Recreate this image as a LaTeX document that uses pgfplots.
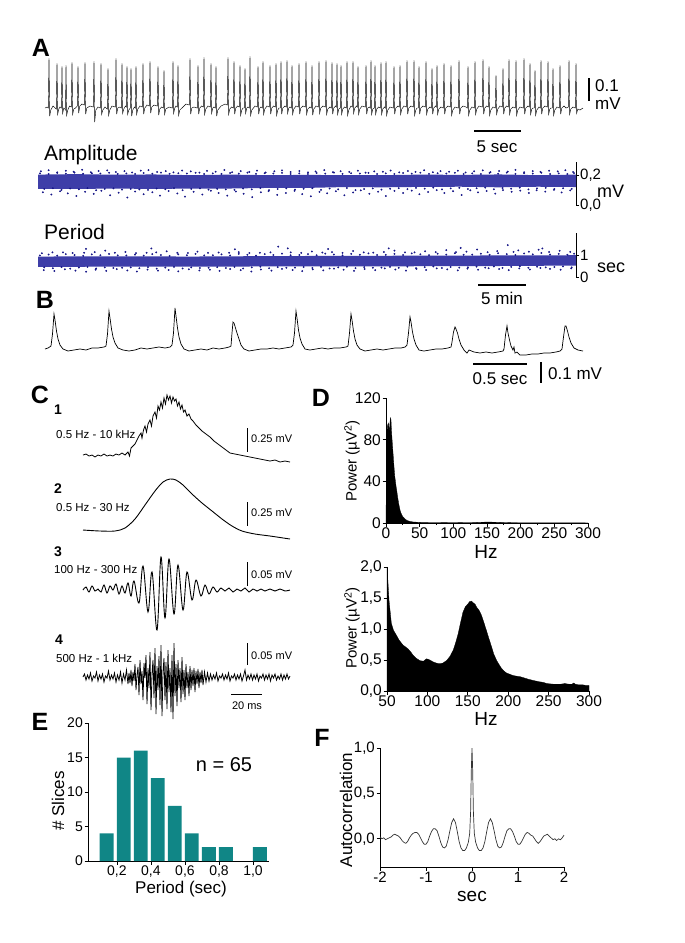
\documentclass[border=0pt]{standalone}
\usepackage{pgfplots}
\pgfplotsset{compat=1.18}
\usepackage{fontspec}
\setmainfont{Liberation Sans}
\definecolor{navyd}{RGB}{22,22,135}
\definecolor{navyf}{RGB}{62,62,168}
\definecolor{tealbar}{RGB}{16,134,134}
\newcommand{\fs}[1]{\fontsize{#1}{#1}\selectfont}
\pgfplotsset{
 gp/.style={scale only axis, anchor=south west, enlargelimits=false, clip=false,
  axis x line*=bottom, axis y line*=left, axis line style={line width=0.8pt,-},
  tick style={line width=0.8pt,black}, tick align=outside, major tick length=3.5pt, minor tick length=2pt,
  /pgf/number format/assume math mode=true, xticklabel style={inner sep=1.5pt}, yticklabel style={inner sep=1.5pt}},
 sc/.style={scale only axis, anchor=south west, enlargelimits=false, clip=false,
  axis y line*=right, axis x line=none, xtick=\empty, axis line style={line width=0.9pt,-},
  tick style={line width=0.9pt,black}, tick align=outside, major tick length=3pt,
  yticklabel style={font=\fs{15}, inner sep=1pt}, xmin=0, xmax=56},
 dots/.style={only marks, mark=*, mark size=0.72pt, navyd}
}
\begin{document}
\begin{tikzpicture}
\useasboundingbox (0,0) rectangle (685pt,-943pt);
% ---------- traces in page pixel units ----------
\begin{axis}[at={(0pt,-943pt)}, anchor=south west, scale only axis, width=685pt, height=943pt,
 xmin=0, xmax=685, ymin=0, ymax=943, y dir=reverse, hide axis, clip=false, enlargelimits=false]
% A trace
\addplot[black, line width=0.45pt] coordinates {
(45,108)(47,107)
(48.3,108)(49,58)(49.7,116)(50.8,110)(53,106)
(56.3,109)(57,63)(57.7,114)(58.8,109)(60,107)
(61.3,108)(62,66)(62.7,113)(63.8,108)(65,109)
(65.5,110)(66,65)(66.7,115)(67.8,110)(69.5,106)
(71.3,107)(72,62)(72.7,114)(73.8,109)(75.5,108)
(77.3,106)(78,66)(78.7,113)(79.8,106)(82,104)
(84.3,105)(85,62)(85.7,114)(86.8,108)(90,106)
(93.3,107)(94,61)(94.7,122)(95.8,110)(98,107)
(100.3,108)(101,63)(101.7,114)(102.8,110)(105,107)
(107.3,109)(108,68)(108.7,115)(109.8,110)(112,106)
(115.3,107)(116,58)(116.7,114)(117.8,108)(120,107)
(121.3,108)(122,63)(122.7,113)(123.8,109)(125.5,106)
(126.3,107)(127,66)(127.7,114)(128.8,110)
(130.3,108)(131,68)(131.7,116)(132.8,110)(134.5,107)
(135.3,108)(136,66)(136.7,114)(137.8,109)(140,106)
(142.3,107)(143,63)(143.7,114)(144.8,108)(147,105)
(149.3,106)(150,61)(150.7,113)(151.8,107)(154,105)
(157.3,106)(158,66)(158.7,115)(159.8,109)(161.5,107)
(163.3,108)(164,70)(164.7,114)(165.8,109)(169,107)
(172.3,108)(173,61)(173.7,113)(174.8,108)(176,106)
(177.3,107)(178,65)(178.7,115)(179.8,110)(183,107)(186,104)
(189.3,105)(190,58)(190.7,114)(191.8,108)(194,107)
(197.3,108)(198,65)(198.7,114)(199.8,108)(201.5,106)
(203.3,107)(204,57)(204.7,114)(205.8,109)(208,106)
(210.3,107)(211,63)(211.7,113)(212.8,108)(214,107)
(215.3,108)(216,66)(216.7,116)(217.8,110)(221,106)(225,104)
(227.3,105)(228,57)(228.7,114)(229.8,109)(231.5,107)
(233.3,108)(234,61)(234.7,114)(235.8,108)(237.5,106)
(239.3,107)(240,65)(240.7,115)(241.8,110)(243,108)
(244.3,108)(245,68)(245.7,113)(246.8,108)(248,107)
(249.3,108)(250,56)(250.7,115)(251.8,110)(255,106)
(257.3,107)(258,66)(258.7,114)(259.8,108)(261,107)
(262.3,108)(263,61)(263.7,114)(264.8,109)(267,106)
(269.3,107)(270,65)(270.7,114)(271.8,108)(273.5,106)
(275.3,107)(276,63)(276.7,115)(277.8,110)(279,108)
(280.3,108)(281,61)(281.7,114)(282.8,108)(285,106)
(286.3,107)(287,60)(287.7,113)(288.8,108)(290,107)
(291.3,108)(292,65)(292.7,114)(293.8,109)(296,106)
(298.3,107)(299,63)(299.7,114)(300.8,108)(303,106)
(305.3,107)(306,61)(306.7,114)(307.8,109)(310,107)
(311.3,108)(312,65)(312.7,115)(313.8,109)(316,106)
(318.3,107)(319,61)(319.7,113)(320.8,108)(323,106)
(325.3,107)(326,60)(326.7,114)(327.8,109)(330,107)
(331.3,108)(332,62)(332.7,114)(333.8,108)(335.5,106)
(336.3,107)(337,63)(337.7,114)(338.8,109)
(340.3,108)(341,65)(341.7,114)(342.8,109)(344.5,107)
(346.3,108)(347,61)(347.7,115)(348.8,110)(351,106)
(352.3,107)(353,61)(353.7,113)(354.8,108)(356.5,106)
(357.3,107)(358,66)(358.7,114)(359.8,109)(362,106)
(365.3,107)(366,65)(366.7,114)(367.8,108)(369.5,107)
(370.3,108)(371,60)(371.7,114)(372.8,109)
(374.3,108)(375,65)(375.7,114)(376.8,109)(378.5,107)
(380.3,108)(381,62)(381.7,114)(382.8,109)(384.5,107)
(385.3,108)(386,61)(386.7,115)(387.8,110)(390,107)
(393.3,108)(394,66)(394.7,114)(395.8,108)(398,106)
(399.3,107)(400,65)(400.7,114)(401.8,109)(404,106)
(406.3,107)(407,60)(407.7,114)(408.8,108)(411,106)
(413.3,107)(414,60)(414.7,115)(415.8,110)(417,108)
(418.3,108)(419,66)(419.7,114)(420.8,108)(423,106)
(425.3,107)(426,61)(426.7,114)(427.8,109)(430,107)
(431.3,108)(432,68)(432.7,114)(433.8,108)(435.5,106)
(436.3,107)(437,65)(437.7,114)(438.8,109)(441,107)
(443.3,108)(444,63)(444.7,114)(445.8,108)(448,106)
(450.3,107)(451,65)(451.7,115)(452.8,110)(455,107)
(458.3,108)(459,60)(459.7,114)(460.8,108)(463,106)(466,107)
(467.3,108)(468,66)(468.7,115)(469.8,110)(472,107)
(474.3,108)(475,61)(475.7,114)(476.8,109)(479,106)
(482.3,107)(483,59)(483.7,114)(484.8,108)(486.5,106)
(488.3,107)(489,66)(489.7,115)(490.8,110)(493,107)
(495.3,108)(496,75)(496.7,114)(497.8,109)(500,106)
(502.3,107)(503,68)(503.7,114)(504.8,108)(506.5,106)
(508.3,107)(509,59)(509.7,114)(510.8,109)(513,107)
(515.3,108)(516,60)(516.7,115)(517.8,110)(520,107)
(523.3,108)(524,58)(524.7,114)(525.8,108)(528,106)
(529.3,107)(530,63)(530.7,114)(531.8,109)(533,108)
(534.3,108)(535,70)(535.7,115)(536.8,110)(539,107)
(540.3,108)(541,60)(541.7,114)(542.8,108)(545,106)
(547.3,107)(548,61)(548.7,114)(549.8,109)(551,108)
(552.3,108)(553,68)(553.7,115)(554.8,110)(557,107)
(559.3,108)(560,65)(560.7,114)(561.8,108)(564,106)(566,108)
(568.3,107)(569,60)(569.7,114)(570.8,109)(573,107)
(575.3,108)(576,63)(576.7,113)(577.8,109)(580,110)(583,108)};
% A scale bars
\addplot[black, line width=2pt] coordinates {(589,78)(589,101)};
\addplot[black, line width=1.3pt] coordinates {(474,131)(521,131)};
% period scale bar
\addplot[black, line width=1.3pt] coordinates {(478,285)(526,285)};
% B trace
\addplot[black, line width=0.7pt] coordinates {
(45,349)(48,348)(51,346)(52.5,334)(54,314)(55,320)(56.5,331)(58,339)(60,345)(63,349)(68,351)(74,350)(80,349)(86,350)(92,348)(98,348)(104,347)
(106,346)(107.5,334)(109,311)(110,318)(111.5,329)(113,337)(115,343)(118,348)(123,350)(129,351)(135,350)(141,348)(147,349)(153,348)(159,347)(165,348)(170,347)
(172,345)(173.5,333)(175,308)(176,316)(177.5,328)(179,337)(181,344)(184,349)(189,351)(195,350)(201,349)(207,350)(213,348)(219,349)(225,348)(229,347)
(231,346)(232,333)(233,322)(234,323)(235.5,328)(237,333)(239,339)(241,345)(244,349)(249,351)(255,350)(261,349)(267,349)(273,348)(279,349)(285,348)(291,347)
(293,345)(294.5,333)(296,311)(297,318)(298.5,330)(300,338)(302,344)(305,349)(310,350)(316,349)(322,348)(328,349)(334,348)(340,348)(346,347)
(348,346)(349.5,333)(351,314)(352,320)(353.5,331)(355,339)(357,345)(360,349)(365,351)(371,350)(377,349)(383,350)(389,349)(395,348)(401,348)(405,347)
(407,345)(408.5,333)(410,317)(411,322)(412.5,332)(414,339)(416,345)(419,350)(424,351)(430,350)(436,349)(442,349)(448,348)(451,347)
(452,342)(453.5,332)(455,327)(456,329)(457.5,333)(459,339)(461,345)(464,350)(467,353)(469,350)(474,352)(480,353)(486,352)(492,353)(498,352)(503,351)
(504,349)(505.5,335)(507,326)(508,333)(509.5,340)(511,346)(513,350)(514,347)(515,353)(517,352)(520,355)(526,355)(532,354)(538,354)(544,353)(550,353)(556,352)(560,351)
(562,349)(563.5,337)(565,326)(566,326)(567.5,331)(569,337)(571,343)(574,348)(578,350)(583,351)};
% B scale bars
\addplot[black, line width=1.3pt] coordinates {(473,364)(527,364)};
\addplot[black, line width=1.3pt] coordinates {(541,362)(541,383)};
% C trace 1
\addplot[black, line width=0.8pt] coordinates {
(83,455)(86,454)(89,456)(92,455)(95,457)(98,455)(101,456)(104,454)(107,456)(110,455)(113,456)(116,454)(119,455)(122,453)(125,455)(128,452)(129.5,456)
(131,448)(133,446)(135,444)(137,440)(139,436)(141,433)(142,438)(143.5,430)(145,426)(146.5,432)(148,424)(150,420)(151.5,426)(153,416)(155,412)(156.5,418)
(158,406)(159.5,410)(161,402)(162.5,408)(164,398)(165.5,404)(167,395)(168.5,400)(170,396)(171.5,403)(173,397)(174.5,401)(176,399)(177.5,406)(179,402)
(180.5,409)(182,405)(183.5,412)(185,410)(187,416)(189,414)(191,419)(193,421)(196,425)(199,428)(202,431)(206,434)(210,437)(214,441)(218,444)(222,447)
(226,450)(230,453)(235,454)(240,455)(245,456)(250,457)(255,458)(260,459)(265,460)(270,461)(275,460)(280,462)(285,461)(290,462)};
% C trace 2
\addplot[black, line width=0.9pt, smooth] coordinates {
(83,530)(100,531)(115,531)(125,528)(135,519)(145,505)(155,491)(163,482)(170,479)(176,480)(183,485)(192,494)(202,503)(212,511)(222,519)(232,526)(242,531)(255,534)(270,536)(290,539)};
% C trace 3
\addplot[black, line width=0.9pt, smooth, tension=0.6] coordinates {
(83,590)(86,587)(89,592)(92,586)(95,591)(98,589)(101,592)(104,585)(107,593)(110,586)(113,590)(116,584)(119,594)(122,586)(125,593)(128,583)(131,596)(134,581)
(139,603)(143,566)(148,612)(152,572)(157,630)(161,557)(165,618)(169,559)(174,614)(178,565)(183,610)(187,572)(192,600)(196,580)(201,596)(205,585)
(209,594)(213,587)(217,592)(221,588)(225,591)(229,588)(233,592)(237,589)(241,591)(245,588)(249,592)(253,589)(257,591)(261,589)(265,591)(270,589)(275,591)(280,589)(285,591)(290,590)};
% C trace 4
\addplot[black, line width=0.8pt] coordinates {
(83,677)(84.5,674)(86,680)(87.5,675)(89,679)(90.5,673)(92,681)(93.5,676)(95,678)(96.5,672)(98,681)(99.5,675)(101,679)(102.5,674)(104,682)(105.5,676)(107,678)(108.5,671)
(110,680)(111.5,675)(113,679)(114.5,673)(116,682)(117.5,675)(119,680)(120.5,672)(122,683)(123.5,674)(125,680)(126.5,670)(128,684)(129,673)
(130,683)(131,670)(132,686)(133,672)(134,681)(135,664)(136,690)(137,675)(138,667)(139,695)(140,660)(141,684)(142,671)(143,700)(144,663)(145,678)(146,655)
(147,704)(148,668)(149,688)(150,652)(151,710)(152,674)(153,660)(154,698)(155,648)(156,714)(157,666)(158,690)(159,656)(160,705)(161,645)(162,716)(163,672)
(164,658)(165,700)(166,662)(167,709)(168,650)(169,692)(170,668)(171,712)(172,655)(173,719)(174,643)(175,696)(176,664)(177,706)(178,660)(179,688)(180,668)
(181,702)(182,657)(183,694)(184,670)(185,700)(186,664)(187,688)(188,672)(189,696)(190,666)(191,690)(192,670)(193,686)(194,668)(195,692)(196,671)(197,684)
(198,669)(199,688)(200,672)(201,683)(202,670)(203,685)
(204.5,672)(206,682)(207.5,673)(209,681)(210.5,674)(212,680)(213.5,675)(215,679)(216.5,673)(218,681)(219.5,676)(221,678)(222.5,674)(224,680)(225.5,675)(227,679)
(228.5,673)(230,681)(231.5,676)(233,678)(234.5,674)(236,680)(237.5,675)(239,679)(240.5,674)(242,681)(243.5,676)(245,670)(246.5,680)(248,675)(249.5,679)(251,674)
(252.5,680)(254,675)(255.5,679)(257,674)(258.5,681)(260,676)(261.5,678)(263,674)(264.5,680)(266,675)(267.5,679)(269,674)(270.5,681)(272,675)(273.5,678)(275,674)
(276.5,680)(278,676)(279.5,679)(281,674)(282.5,680)(284,675)(285.5,679)(287,674)(288.5,679)(290,676)};
% C scale bars
\addplot[black, line width=0.9pt] coordinates {(247,428)(247,452)};
\addplot[black, line width=0.9pt] coordinates {(247,502)(247,526)};
\addplot[black, line width=0.9pt] coordinates {(247,562)(247,586)};
\addplot[black, line width=0.9pt] coordinates {(247,643)(247,665)};
\addplot[black, line width=0.9pt] coordinates {(231,694)(262,694)};
\end{axis}

% ---------- Amplitude scatter ----------
\begin{axis}[sc, at={(38pt,-205pt)}, width=538pt, height=43pt, ymin=0, ymax=0.287,
 ytick={0,0.2}, yticklabels={{0,0},{0,2}}]
\addplot[fill=navyf, draw=none] coordinates {(0,0.203)(4,0.206)(8,0.202)(12,0.204)(16,0.199)(20,0.203)(24,0.199)(28,0.201)(32,0.199)(36,0.199)(40,0.203)(44,0.201)(48,0.204)(52,0.199)(56,0.203)
(56,0.12)(52,0.122)(48,0.118)(44,0.122)(40,0.121)(36,0.118)(32,0.12)(28,0.114)(24,0.114)(20,0.11)(16,0.11)(12,0.107)(8,0.11)(4,0.107)(0,0.107)};
\addplot[dots] coordinates {
(0.2,0.211)(1.1,0.207)(2.0,0.214)(2.9,0.209)(3.8,0.216)(4.7,0.208)(5.6,0.212)(6.5,0.21)(7.4,0.215)(8.3,0.207)
(9.2,0.211)(10.1,0.207)(11.0,0.214)(11.9,0.209)(12.8,0.216)(13.7,0.208)(14.6,0.212)(15.5,0.21)(16.4,0.215)(17.3,0.207)
(18.2,0.211)(19.1,0.207)(20.0,0.214)(20.9,0.209)(21.8,0.216)(22.7,0.208)(23.6,0.212)(24.5,0.21)(25.4,0.215)(26.3,0.207)
(27.2,0.211)(28.1,0.207)(29.0,0.214)(29.9,0.209)(30.8,0.216)(31.7,0.208)(32.6,0.212)(33.5,0.21)(34.4,0.215)(35.3,0.207)
(36.2,0.211)(37.1,0.207)(38.0,0.214)(38.9,0.209)(39.8,0.216)(40.7,0.208)(41.6,0.212)(42.5,0.21)(43.4,0.215)(44.3,0.207)
(45.2,0.211)(46.1,0.207)(47.0,0.214)(47.9,0.209)(48.8,0.216)(49.7,0.208)(50.6,0.212)(51.5,0.21)(52.4,0.215)(53.3,0.207)(54.2,0.211)(55.1,0.207)(55.8,0.213)
(0.65,0.108)(1.55,0.112)(2.45,0.101)(3.35,0.11)(4.25,0.105)(5.15,0.113)(6.05,0.099)(6.95,0.107)(7.85,0.111)(8.75,0.103)
(9.65,0.108)(10.55,0.104)(11.45,0.101)(12.35,0.11)(13.25,0.105)(14.15,0.113)(15.05,0.099)(15.95,0.107)(16.85,0.111)(17.75,0.103)
(18.65,0.108)(19.55,0.104)(20.45,0.101)(21.35,0.11)(22.25,0.105)(23.15,0.113)(24.05,0.099)(24.95,0.107)(25.85,0.111)(26.75,0.103)
(27.65,0.108)(28.55,0.112)(29.45,0.101)(30.35,0.11)(31.25,0.105)(32.15,0.113)(33.05,0.099)(33.95,0.107)(34.85,0.111)(35.75,0.103)
(36.65,0.108)(37.55,0.112)(38.45,0.106)(39.35,0.114)(40.25,0.109)(41.15,0.116)(42.05,0.104)(42.95,0.111)(43.85,0.115)(44.75,0.107)
(45.65,0.112)(46.55,0.116)(47.45,0.105)(48.35,0.113)(49.25,0.109)(50.15,0.116)(51.05,0.104)(51.95,0.111)(52.85,0.115)(53.75,0.107)(54.65,0.112)(55.55,0.108)
(0.3,0.225)(1.1,0.232)(2.0,0.218)(2.9,0.228)(3.7,0.222)(4.6,0.235)(5.5,0.219)(6.3,0.227)(7.2,0.231)(8.1,0.22)(9.0,0.226)(9.8,0.217)(10.7,0.229)(11.5,0.233)
(12.4,0.221)(13.3,0.226)(14.1,0.218)(15.0,0.23)(15.9,0.224)(16.8,0.216)(17.6,0.228)(18.5,0.222)(19.4,0.234)(20.2,0.219)(21.1,0.226)(22.0,0.221)(22.8,0.229)
(23.7,0.217)(24.6,0.225)(25.4,0.231)(26.3,0.22)(27.2,0.227)(28.1,0.218)(28.9,0.224)(29.8,0.233)(30.7,0.219)(31.5,0.226)(32.4,0.221)(33.3,0.229)(34.1,0.216)
(35.0,0.225)(35.9,0.222)(36.7,0.23)(37.6,0.218)(38.5,0.227)(39.3,0.221)(40.2,0.232)(41.1,0.219)(41.9,0.226)(42.8,0.222)(43.7,0.229)(44.5,0.217)(45.4,0.225)
(46.3,0.231)(47.1,0.22)(48.0,0.227)(48.9,0.223)(49.7,0.234)(50.6,0.219)(51.5,0.226)(52.3,0.221)(53.2,0.229)(54.1,0.224)(54.9,0.232)(55.7,0.22)
(0.5,0.085)(1.4,0.07)(2.3,0.092)(3.1,0.078)(4.0,0.06)(4.9,0.088)(5.8,0.074)(6.6,0.095)(7.5,0.065)(8.4,0.082)(9.3,0.05)(10.1,0.09)(11.0,0.072)(11.9,0.085)
(12.7,0.063)(13.6,0.093)(14.5,0.077)(15.3,0.056)(16.2,0.088)(17.1,0.07)(18.0,0.095)(18.8,0.08)(19.7,0.062)(20.6,0.09)(21.4,0.075)(22.3,0.052)(23.2,0.085)
(24.0,0.093)(24.9,0.068)(25.8,0.08)(26.7,0.095)(27.5,0.073)(28.4,0.058)(29.3,0.088)(30.1,0.078)(31.0,0.092)(31.9,0.065)(32.8,0.084)(33.6,0.098)(34.5,0.075)
(35.4,0.089)(36.2,0.06)(37.1,0.094)(38.0,0.08)(38.9,0.096)(39.7,0.072)(40.6,0.087)(41.5,0.099)(42.3,0.08)(43.2,0.092)(44.1,0.067)(45.0,0.098)(45.8,0.085)
(46.7,0.094)(47.6,0.076)(48.4,0.1)(49.3,0.088)(50.2,0.096)(51.1,0.08)(51.9,0.098)(52.8,0.09)(53.7,0.101)(54.5,0.084)(55.4,0.097)};
\end{axis}

% ---------- Period scatter ----------
\begin{axis}[sc, at={(38pt,-277pt)}, width=538pt, height=44pt, ymin=0, ymax=2,
 ytick={0,1}, yticklabels={0,1}]
\addplot[fill=navyf, draw=none] coordinates {(0,0.93)(8,0.94)(16,0.93)(24,0.95)(32,0.96)(40,0.97)(48,0.98)(56,0.99)
(56,0.52)(48,0.5)(40,0.49)(32,0.48)(24,0.48)(16,0.47)(8,0.47)(0,0.46)};
\addplot[dots] coordinates {
(0.2,0.98)(1.1,1.02)(2.0,0.97)(2.9,1.04)(3.8,1.0)(4.7,0.96)(5.6,1.03)(6.5,0.99)(7.4,1.05)(8.3,0.98)
(9.2,0.98)(10.1,1.02)(11.0,0.97)(11.9,1.04)(12.8,1.0)(13.7,0.96)(14.6,1.03)(15.5,0.99)(16.4,1.05)(17.3,0.98)
(18.2,0.99)(19.1,1.03)(20.0,0.98)(20.9,1.05)(21.8,1.01)(22.7,0.97)(23.6,1.04)(24.5,1.0)(25.4,1.06)(26.3,0.99)
(27.2,1.0)(28.1,1.04)(29.0,0.99)(29.9,1.06)(30.8,1.02)(31.7,0.98)(32.6,1.05)(33.5,1.01)(34.4,1.07)(35.3,1.0)
(36.2,1.01)(37.1,1.05)(38.0,1.0)(38.9,1.07)(39.8,1.03)(40.7,0.99)(41.6,1.06)(42.5,1.02)(43.4,1.08)(44.3,1.01)
(45.2,1.02)(46.1,1.06)(47.0,1.01)(47.9,1.08)(48.8,1.04)(49.7,1.0)(50.6,1.07)(51.5,1.03)(52.4,1.09)(53.3,1.02)(54.2,1.05)(55.1,1.01)(55.8,1.06)
(0.65,0.44)(1.55,0.4)(2.45,0.45)(3.35,0.38)(4.25,0.43)(5.15,0.46)(6.05,0.39)(6.95,0.44)(7.85,0.41)(8.75,0.42)
(9.65,0.44)(10.55,0.4)(11.45,0.45)(12.35,0.38)(13.25,0.43)(14.15,0.46)(15.05,0.39)(15.95,0.44)(16.85,0.41)(17.75,0.42)
(18.65,0.45)(19.55,0.41)(20.45,0.46)(21.35,0.39)(22.25,0.44)(23.15,0.47)(24.05,0.4)(24.95,0.45)(25.85,0.42)(26.75,0.43)
(27.65,0.45)(28.55,0.41)(29.45,0.46)(30.35,0.39)(31.25,0.44)(32.15,0.47)(33.05,0.4)(33.95,0.45)(34.85,0.42)(35.75,0.43)
(36.65,0.46)(37.55,0.42)(38.45,0.47)(39.35,0.4)(40.25,0.45)(41.15,0.48)(42.05,0.41)(42.95,0.46)(43.85,0.43)(44.75,0.44)
(45.65,0.47)(46.55,0.43)(47.45,0.48)(48.35,0.41)(49.25,0.46)(50.15,0.49)(51.05,0.42)(51.95,0.47)(52.85,0.44)(53.75,0.45)(54.65,0.48)(55.55,0.44)
(0.4,1.08)(1.5,1.12)(2.6,1.12)(3.6,1.09)(4.8,1.1)(5.9,1.13)(7.0,1.2)(8.0,1.1)(9.1,1.14)(10.2,1.09)(11.3,1.1)(12.3,1.12)(13.4,1.17)(14.5,1.1)(15.6,1.09)
(16.6,1.15)(17.7,1.1)(18.8,1.11)(19.9,1.1)(20.9,1.13)(22.0,1.09)(23.1,1.1)(24.2,1.12)(25.0,1.38)(26.0,1.3)(26.3,1.12)(27.4,1.1)(28.5,1.16)(29.6,1.11)
(30.6,1.13)(31.7,1.1)(32.8,1.18)(33.9,1.12)(34.9,1.11)(36.0,1.14)(37.1,1.2)(38.2,1.12)(39.2,1.12)(40.3,1.17)(41.4,1.13)(42.5,1.22)(43.5,1.13)(44.6,1.15)
(45.7,1.25)(46.8,1.13)(47.8,1.18)(48.9,1.45)(49.5,1.14)(50.0,1.21)(51.1,1.15)(52.1,1.24)(53.2,1.14)(54.3,1.19)(55.4,1.14)(5.0,1.28)(11.8,1.3)(20.5,1.26)
(30.2,1.27)(36.5,1.3)(44.0,1.32)(52.5,1.3)
(0.6,0.31)(1.7,0.27)(2.8,0.35)(3.9,0.29)(5.0,0.24)(6.0,0.33)(7.1,0.28)(8.2,0.36)(9.3,0.3)(10.3,0.25)(11.4,0.34)(12.5,0.29)(13.6,0.32)(14.6,0.26)(15.7,0.35)
(16.8,0.3)(17.9,0.33)(18.9,0.28)(20.0,0.36)(21.1,0.31)(22.2,0.25)(23.2,0.34)(24.3,0.29)(25.4,0.37)(26.5,0.32)(27.5,0.27)(28.6,0.35)(29.7,0.3)(30.8,0.38)
(31.8,0.33)(32.9,0.28)(34.0,0.36)(35.1,0.31)(36.1,0.39)(37.2,0.34)(38.3,0.29)(39.4,0.37)(40.4,0.32)(41.5,0.39)(42.6,0.35)(43.7,0.3)(44.7,0.38)(45.8,0.33)
(46.9,0.4)(48.0,0.36)(49.0,0.31)(50.1,0.39)(51.2,0.34)(52.3,0.41)(53.3,0.37)(54.4,0.33)(55.5,0.39)};
\end{axis}

% ---------- D top ----------
\begin{axis}[gp, at={(386pt,-523pt)}, width=202pt, height=125pt, xmin=0, xmax=300, ymin=0, ymax=120,
 xtick={0,50,...,300}, xticklabels={0,50,100,150,200,250,300}, minor x tick num=1,
 ytick={0,40,80,120}, yticklabels={0,40,80,120}, ticklabel style={font=\fs{15.5}}, xticklabel style={inner sep=0.5pt}]
\addplot[fill=black, draw=black, line width=0.3pt] coordinates {
(0,0)(0.5,40)(1,70)(1.5,86)(2,92)(2.5,94)(3,95)(3.5,96)(4,94)(4.5,90)(5,88)(5.5,92)(6,97)(6.5,100)(7,101)(7.5,98)(8,90)(9,80)(10,71)(11,62)(12,53)(13,45)
(14,40)(15,35)(16,31)(17,26)(18,22)(19,18)(20,15)(21,12)(22,10)(23,8.5)(25,6)(28,4)(31,2.5)(35,1.6)(40,1)(45,0.8)(50,0.6)(60,0.5)(80,0.4)(100,0.3)
(130,0.5)(150,0.9)(160,0.8)(180,0.4)(200,0.2)(250,0.15)(300,0.1)(300,0)};
\end{axis}

% ---------- D bottom ----------
\begin{axis}[gp, at={(387pt,-691pt)}, width=202pt, height=124pt, xmin=50, xmax=300, ymin=0, ymax=2,
 xtick={50,100,...,300}, xticklabels={50,100,150,200,250,300},
 ytick={0,0.5,1,1.5,2}, yticklabels={{0,0},{0,5},{1,0},{1,5},{2,0}}, ticklabel style={font=\fs{15.5}}, xticklabel style={inner sep=0.5pt}]
\addplot[fill=black, draw=black, line width=0.3pt] coordinates {
(50,0)(50,2.0)(51,1.8)(52.5,1.46)(55.4,1.09)(58,0.98)(61.6,0.9)(65,0.82)(69.9,0.74)(73,0.71)(76,0.68)(80,0.62)(82,0.58)(86,0.53)(90.6,0.49)(95,0.48)
(99,0.52)(103,0.5)(107,0.47)(111,0.45)(115,0.44)(119,0.45)(123.7,0.49)(128,0.56)(132,0.66)(135,0.78)(138,0.92)(141,1.1)(144,1.27)(147,1.36)(150.6,1.41)
(152,1.44)(154.7,1.45)(157,1.42)(159,1.4)(161,1.35)(164,1.3)(167,1.22)(170,1.1)(173,0.98)(176,0.85)(179.5,0.71)(182,0.6)(185.8,0.49)(189,0.42)(192,0.36)
(195,0.32)(198,0.29)(202,0.27)(206,0.25)(210,0.24)(215,0.23)(220,0.21)(225,0.19)(231,0.17)(238,0.15)(243,0.14)(248,0.12)(252,0.115)(256,0.11)(260,0.11)
(265,0.11)(270,0.12)(275,0.11)(279,0.11)(281,0.13)(283,0.11)(287,0.1)(292,0.1)(296,0.09)(300,0.09)(300,0)};
\end{axis}

% ---------- E ----------
\begin{axis}[gp, at={(88pt,-861pt)}, width=181pt, height=138pt, xmin=0.03, xmax=1.094, ymin=0, ymax=20,
 xtick={0.2,0.4,0.6,0.8,1.0}, xticklabels={{0,2},{0,4},{0,6},{0,8},{1,0}},
 ytick={0,5,10,15,20}, yticklabels={0,5,10,15,20}, ticklabel style={font=\fs{14}}]
\addplot[ybar, fill=tealbar, draw=none, bar width=0.082] coordinates {(0.14,4)(0.24,15)(0.34,16)(0.44,12)(0.54,8)(0.64,4)(0.74,2)(0.84,2)(1.04,2)};
\end{axis}

% ---------- F ----------
\begin{axis}[gp, at={(380pt,-867pt)}, width=184pt, height=119pt, xmin=-2, xmax=2, ymin=-0.311, ymax=1.0,
 xtick={-2,-1,0,1,2}, xticklabels={-2,-1,0,1,2},
 ytick={0,0.5,1}, yticklabels={{0,0},{0,5},{1,0}}, ticklabel style={font=\fs{15}}]
\addplot[black!80, line width=0.7pt] coordinates {
(-2.0,0.02)(-1.96,0.0)(-1.92,0.01)(-1.88,-0.01)(-1.84,0.0)(-1.8,0.01)(-1.76,0.02)(-1.72,0.04)(-1.68,0.05)(-1.64,0.04)(-1.6,0.03)(-1.56,0.01)(-1.52,-0.02)
(-1.48,-0.04)(-1.44,-0.05)(-1.4,-0.03)(-1.36,0.01)(-1.32,0.04)(-1.28,0.06)(-1.24,0.07)(-1.2,0.07)(-1.16,0.05)(-1.12,0.01)(-1.08,-0.03)(-1.04,-0.06)(-1.0,-0.06)
(-0.96,-0.03)(-0.92,0.03)(-0.88,0.08)(-0.84,0.11)(-0.8,0.11)(-0.76,0.09)(-0.72,0.03)(-0.68,-0.04)(-0.64,-0.09)(-0.6,-0.1)(-0.56,-0.08)(-0.52,-0.01)(-0.48,0.09)
(-0.44,0.18)(-0.4,0.22)(-0.36,0.18)(-0.32,0.08)(-0.28,-0.03)(-0.24,-0.1)(-0.2,-0.13)(-0.16,-0.13)(-0.12,-0.1)(-0.08,-0.04)(-0.05,0.06)(-0.03,0.3)(-0.015,0.75)
(0,1.0)(0.015,0.75)(0.03,0.3)(0.05,0.06)(0.08,-0.04)(0.12,-0.1)(0.16,-0.13)(0.2,-0.13)(0.24,-0.1)(0.28,-0.03)(0.32,0.08)(0.36,0.18)(0.4,0.22)(0.44,0.18)
(0.48,0.09)(0.52,-0.01)(0.56,-0.08)(0.6,-0.1)(0.64,-0.09)(0.68,-0.04)(0.72,0.03)(0.76,0.09)(0.8,0.11)(0.84,0.11)(0.88,0.08)(0.92,0.03)(0.96,-0.03)(1.0,-0.06)
(1.04,-0.06)(1.08,-0.03)(1.12,0.01)(1.16,0.05)(1.2,0.07)(1.24,0.06)(1.28,0.04)(1.32,0.03)(1.36,0.0)(1.4,-0.03)(1.44,-0.05)(1.48,-0.03)(1.52,0.0)(1.56,0.03)
(1.6,0.04)(1.64,0.05)(1.68,0.03)(1.72,0.01)(1.76,-0.01)(1.8,0.0)(1.84,-0.02)(1.88,0.0)(1.92,-0.01)(1.96,0.01)(2.0,0.04)};
\end{axis}

% ---------- text ----------
\begin{scope}[x=1pt,y=-1pt]
\node[font=\fs{25}\bfseries] at (41,48) {A};
\node[font=\fs{17},anchor=west,inner sep=0] at (595,86) {0.1};
\node[font=\fs{17},anchor=west,inner sep=0] at (595,104) {mV};
\node[font=\fs{17}] at (497,147) {5 sec};
\node[font=\fs{21},anchor=west,inner sep=0] at (44,155) {Amplitude};
\node[font=\fs{18},anchor=west,inner sep=0] at (597,191) {mV};
\node[font=\fs{21},anchor=west,inner sep=0] at (44,232) {Period};
\node[font=\fs{18},anchor=west,inner sep=0] at (597,268) {sec};
\node[font=\fs{17}] at (502,298) {5 min};
\node[font=\fs{25}\bfseries] at (45,300) {B};
\node[font=\fs{17}] at (500,379) {0.5 sec};
\node[font=\fs{17},anchor=west,inner sep=0] at (548,374) {0.1 mV};
\node[font=\fs{25}\bfseries] at (40,395) {C};
\node[font=\fs{14}\bfseries] at (58,410) {1};
\node[font=\fs{11.5},anchor=west,inner sep=0] at (56,434) {0.5 Hz - 10 kHz};
\node[font=\fs{11},anchor=west,inner sep=0] at (251,439) {0.25 mV};
\node[font=\fs{14}\bfseries] at (58,489) {2};
\node[font=\fs{11.5},anchor=west,inner sep=0] at (56,508) {0.5 Hz - 30 Hz};
\node[font=\fs{11},anchor=west,inner sep=0] at (251,513) {0.25 mV};
\node[font=\fs{14}\bfseries] at (58,552) {3};
\node[font=\fs{11.5},anchor=west,inner sep=0] at (54,570) {100 Hz - 300 Hz};
\node[font=\fs{11},anchor=west,inner sep=0] at (251,575) {0.05 mV};
\node[font=\fs{14}\bfseries] at (59,640) {4};
\node[font=\fs{11.5},anchor=west,inner sep=0] at (56,658) {500 Hz - 1 kHz};
\node[font=\fs{11},anchor=west,inner sep=0] at (251,656) {0.05 mV};
\node[font=\fs{11}] at (247,706) {20 ms};
\node[font=\fs{25}\bfseries] at (321,398) {D};
\node[font=\fs{15},rotate=90] at (352,461) {Power (µV\textsuperscript{2})};
\node[font=\fs{19}] at (486,552) {Hz};
\node[font=\fs{15},rotate=90] at (352,628) {Power (µV\textsuperscript{2})};
\node[font=\fs{19}] at (486,719) {Hz};
\node[font=\fs{25}\bfseries] at (40,722) {E};
\node[font=\fs{17},rotate=90] at (58,801) {\# Slices};
\node[font=\fs{17}] at (181,889) {Period (sec)};
\node[font=\fs{20}] at (224,765) {n = 65};
\node[font=\fs{25}\bfseries] at (322,738) {F};
\node[font=\fs{17},rotate=90] at (346,810) {Autocorrelation};
\node[font=\fs{19}] at (472,896) {sec};
\end{scope}
\end{tikzpicture}
\end{document}
